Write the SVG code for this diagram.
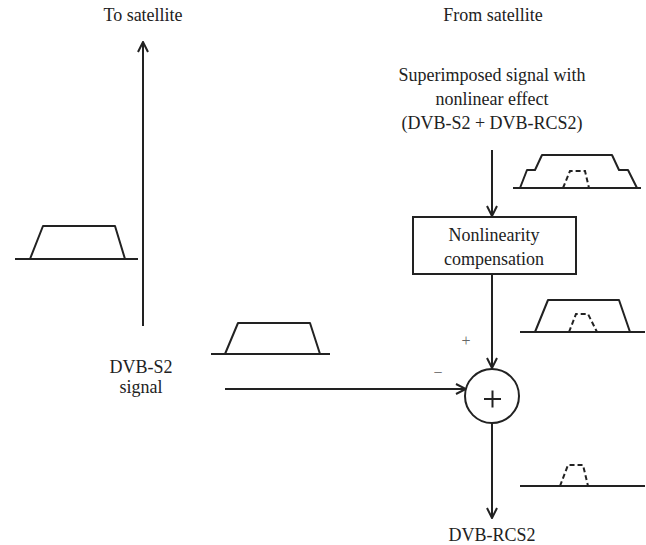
<svg xmlns="http://www.w3.org/2000/svg" width="646" height="545" viewBox="0 0 646 545">
<defs>
<style>
.t{font-family:'Liberation Serif','DejaVu Serif',serif;font-size:18px;fill:#222;text-anchor:middle}
.s{font-family:'Liberation Serif','DejaVu Serif',serif;font-size:16px;fill:#666;text-anchor:middle}
.ln{stroke:#222;stroke-width:2;fill:none}
.sp{stroke:#222;stroke-width:2;fill:none;stroke-linejoin:round}
.ds{stroke:#222;stroke-width:2;fill:none;stroke-dasharray:5,3}
</style>
<marker id="ah" viewBox="0 0 12 12" refX="11" refY="6" markerWidth="12" markerHeight="12" markerUnits="userSpaceOnUse" orient="auto">
<path d="M1,1 L11,6 L1,11" fill="none" stroke="#222" stroke-width="2"/>
</marker>
</defs>
<rect width="646" height="545" fill="#fff"/>
<g id="labels">
<text class="t" x="143" y="21">To satellite</text>
<text class="t" x="493" y="21">From satellite</text>
<text class="t" x="492" y="81">Superimposed signal with</text>
<text class="t" x="492" y="105">nonlinear effect</text>
<text class="t" x="492" y="129">(DVB-S2 + DVB-RCS2)</text>
<text class="t" x="141" y="373">DVB-S2</text>
<text class="t" x="141" y="393">signal</text>
<text class="t" x="492" y="541">DVB-RCS2</text>
<text class="s" x="466" y="346">+</text>
<text class="s" x="438" y="378">−</text>
</g>
<g id="connectors">
<line class="ln" x1="143" y1="326" x2="143" y2="42" marker-end="url(#ah)"/>
<line class="ln" x1="492" y1="150" x2="492" y2="216" marker-end="url(#ah)"/>
<line class="ln" x1="492" y1="274" x2="492" y2="368" marker-end="url(#ah)"/>
<line class="ln" x1="225" y1="389" x2="466" y2="389" marker-end="url(#ah)"/>
<line class="ln" x1="492" y1="423" x2="492" y2="518" marker-end="url(#ah)"/>
</g>
<g id="nonlinearity">
<rect x="413" y="217" width="163" height="57" fill="#fff" stroke="#222" stroke-width="2"/>
<text class="t" x="494" y="241">Nonlinearity</text>
<text class="t" x="494" y="265">compensation</text>
</g>
<g id="sum">
<circle cx="492" cy="396" r="27" fill="#fff" stroke="#222" stroke-width="2"/>
<path d="M484,399 H501 M492.5,390.5 V407.5" stroke="#222" stroke-width="2"/>
</g>
<g id="spectrum-left">
<line class="ln" x1="15" y1="259" x2="138" y2="259"/>
<path class="sp" d="M30,259 L43,226 L115,226 L125,259"/>
</g>
<g id="spectrum-mid">
<line class="ln" x1="211" y1="354" x2="330" y2="354"/>
<path class="sp" d="M225,354 L238,323 L310,323 L320,354"/>
</g>
<g id="spectrum-top-right">
<line class="ln" x1="513" y1="188" x2="641" y2="188"/>
<path class="sp" d="M520,188 L527,170 L535,170 L542,155 L612,155 L619,170 L628,170 L637,188"/>
<path class="ds" d="M563,188 L570,171 L585,171 L589,188"/>
</g>
<g id="spectrum-mid-right">
<line class="ln" x1="520" y1="332" x2="645" y2="332"/>
<path class="sp" d="M535,332 L548,300 L619,300 L630,332"/>
<path class="ds" d="M569,332 L576,314 L588,314 L597,332"/>
</g>
<g id="spectrum-bottom-right">
<line class="ln" x1="520" y1="486" x2="645" y2="486"/>
<path class="ds" d="M560,486 L568,465 L583,465 L588,486"/>
</g>
</svg>
